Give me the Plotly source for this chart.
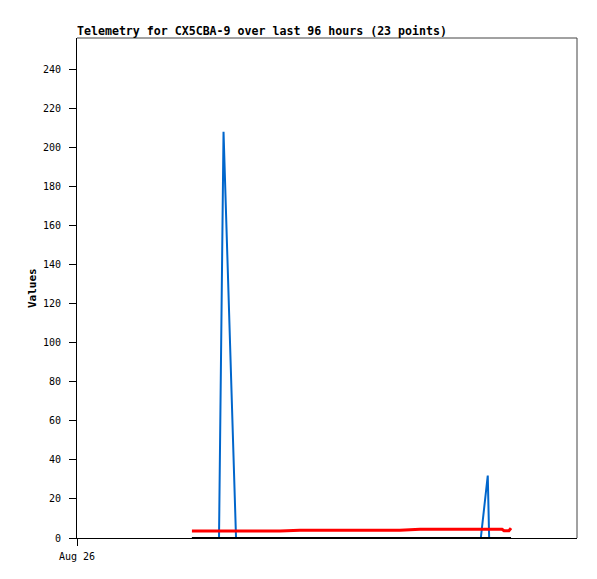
import plotly.graph_objects as go

# 23 telemetry samples (timestamps on Aug 26)
times = [
    "2024-08-26 05:31", "2024-08-26 06:49", "2024-08-26 07:02", "2024-08-26 07:38",
    "2024-08-26 08:18", "2024-08-26 09:01", "2024-08-26 09:45", "2024-08-26 10:42",
    "2024-08-26 11:40", "2024-08-26 12:37", "2024-08-26 13:35", "2024-08-26 14:33",
    "2024-08-26 15:30", "2024-08-26 16:28", "2024-08-26 17:25", "2024-08-26 18:23",
    "2024-08-26 19:23", "2024-08-26 19:43", "2024-08-26 19:47", "2024-08-26 20:24",
    "2024-08-26 20:30", "2024-08-26 20:44", "2024-08-26 20:50",
]
blue_vals = [0, 0, 208, 0, 0, 0, 0, 0, 0, 0, 0, 0, 0, 0, 0, 0, 0, 32, 0, 0, 0, 0, 0]
red_vals = [3.6, 3.6, 3.6, 3.6, 3.6, 3.6, 3.6, 4.0, 4.0, 4.0, 4.0, 4.0, 4.0, 4.5,
            4.5, 4.5, 4.5, 4.5, 4.5, 4.5, 3.7, 3.7, 5.1]
black_vals = [0] * 23

y_ticks = list(range(0, 241, 20))
x_tickvals = ["2024-08-26 00:00"]
x_ticktext = ["Aug 26"]

title_text = "Telemetry for CX5CBA-9 over last 96 hours (23 points)"

mono = "DejaVu Sans Mono"

# page body has an 8px margin; size the figure so it fits the 597x579 window
W, H = 581, 563
OFF = 8

fig = go.Figure()
fig.add_trace(go.Scatter(x=times, y=blue_vals, mode="lines",
                         line=dict(color="#0066cc", width=2), showlegend=False))
fig.add_trace(go.Scatter(x=times, y=red_vals, mode="lines",
                         line=dict(color="#ff0000", width=3), showlegend=False))
fig.add_trace(go.Scatter(x=times, y=black_vals, mode="lines",
                         line=dict(color="#000000", width=2), showlegend=False))

fig.update_layout(
    width=W, height=H,
    margin=dict(l=77 - OFF, r=W - (577 - OFF), t=38 - OFF, b=H - (538 - OFF)),
    paper_bgcolor="white", plot_bgcolor="white",
    font=dict(family=mono, size=10, color="black"),
    title=dict(text="<b>" + title_text + "</b>", x=(77 - OFF) / W, xanchor="left",
               xref="container", y=1 - (31 - OFF) / H, yanchor="middle", yref="container",
               font=dict(family=mono, size=11.6, color="black")),
    xaxis=dict(type="date", range=["2024-08-26 00:00", "2024-08-27 00:00"],
               tickvals=x_tickvals, ticktext=x_ticktext, automargin=False,
               ticks="outside", ticklen=7, tickcolor="black", showgrid=False,
               showline=True, linecolor="black", linewidth=1, zeroline=False,
               ticklabelstandoff=2,
               tickfont=dict(family=mono, size=10, color="black")),
    yaxis=dict(range=[0, 256], tickvals=y_ticks, ticks="outside", ticklen=7,
               tickcolor="black", showgrid=False, showline=True, linecolor="black",
               linewidth=1, zeroline=False, ticklabelstandoff=6, automargin=False,
               tickfont=dict(family=mono, size=10, color="black")),
    shapes=[
        dict(type="line", xref="paper", yref="paper", x0=0, x1=1, y0=1, y1=1,
             line=dict(color="#444444", width=1)),
        dict(type="line", xref="paper", yref="paper", x0=1, x1=1, y0=0, y1=1,
             line=dict(color="#444444", width=1)),
    ],
    annotations=[
        dict(text="<b>Values</b>", xref="paper", yref="paper", x=(32 - 77) / 500,
             y=0.5, textangle=-90, showarrow=False, xanchor="center", yanchor="middle",
             font=dict(family=mono, size=11, color="black")),
    ],
)

fig.write_html("out.html")
